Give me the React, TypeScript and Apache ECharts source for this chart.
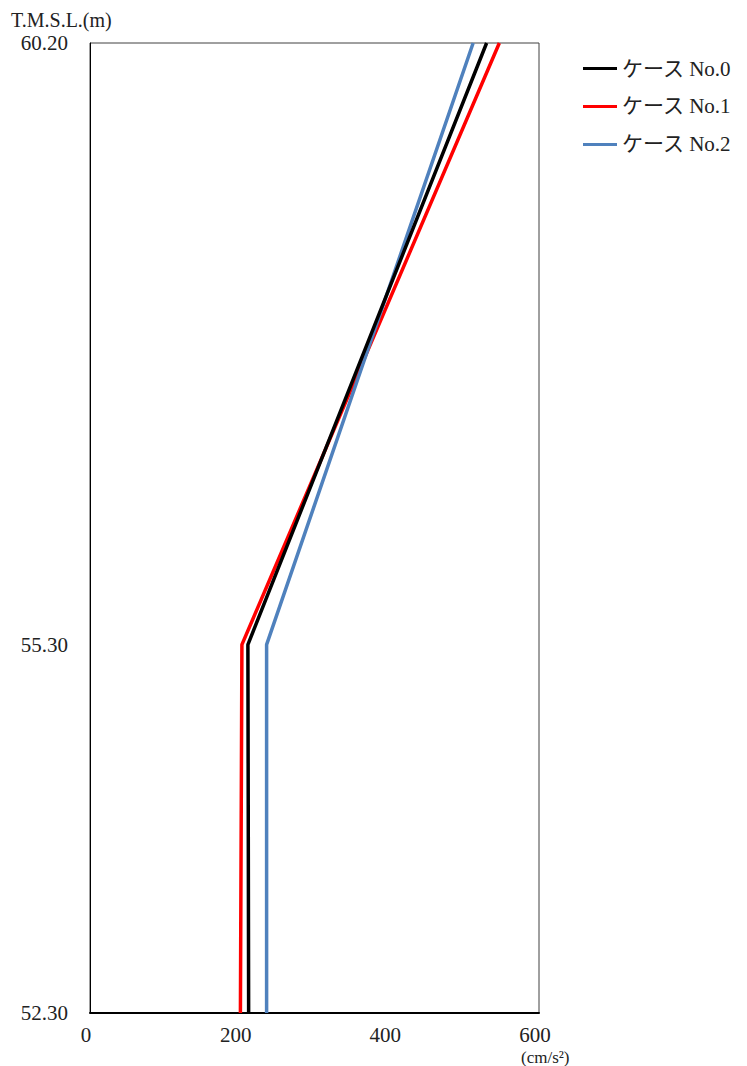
import React, { useEffect, useRef } from "react";
import * as echarts from "echarts";

const seriesNames = ["ケース No.0", "ケース No.1", "ケース No.2"];
const colors = ["#000000", "#ff0000", "#4f81bd"];
const elevations = [52.3, 55.3, 60.2];
const case0 = [212, 211, 530];
const case1 = [201, 203, 547];
const case2 = [236, 236, 512];
const yTickValues = [52.3, 55.3, 60.2];
const xTickValues = [0, 200, 400, 600];

const FONT = "'Liberation Serif', 'Noto Sans CJK JP', serif";

export default function App() {
  const ref = useRef<HTMLDivElement>(null);
  useEffect(() => {
    const chart = echarts.init(ref.current!, null, { renderer: "svg" });
    const all = [case0, case1, case2];
    chart.setOption({
      animation: false,
      textStyle: { fontFamily: FONT },
      grid: {
        left: 90,
        right: 208,
        top: 43,
        bottom: 53,
        show: true,
        borderColor: "#404040",
        borderWidth: 1,
      },
      legend: {
        orient: "vertical",
        left: 578,
        top: 53,
        itemWidth: 34,
        itemHeight: 3,
        itemGap: 17,
        icon: "rect",
        textStyle: { fontSize: 21, color: "#222", fontFamily: FONT },
        data: seriesNames,
      },
      xAxis: {
        type: "value",
        min: 0,
        max: 600,
        interval: 200,
        splitLine: { show: false },
        axisTick: { show: false },
        axisLine: { show: true, lineStyle: { color: "#000", width: 2 } },
        axisLabel: {
          fontSize: 21,
          lineHeight: 20,
          color: "#222",
          margin: 12,
          padding: [0, 8, 0, 0],
          fontFamily: FONT,
          customValues: xTickValues,
        },
      },
      yAxis: {
        type: "value",
        min: 52.3,
        max: 60.2,
        splitLine: { show: false },
        axisTick: { show: false },
        axisLine: { show: true, lineStyle: { color: "#000", width: 1 } },
        axisLabel: {
          fontSize: 21,
          lineHeight: 20,
          color: "#222",
          margin: 22,
          fontFamily: FONT,
          customValues: yTickValues,
          formatter: (v: number) => v.toFixed(2),
        },
      },
      graphic: [
        {
          type: "text",
          left: 11,
          top: 10,
          style: { text: "T.M.S.L.(m)", fontSize: 20, lineHeight: 20, fill: "#222", fontFamily: FONT },
        },
        {
          type: "text",
          left: 521,
          top: 1049,
          style: { text: "(cm/s²)", fontSize: 17, lineHeight: 16, fill: "#222", fontFamily: FONT },
        },
      ],
      series: all.map((vals, i) => ({
        name: seriesNames[i],
        type: "line",
        showSymbol: false,
        symbol: "none",
        lineStyle: { width: 3.5, color: colors[i] },
        itemStyle: { color: colors[i] },
        data: vals.map((v, j) => [v, elevations[j]]),
        z: i === 2 ? 3 : i === 0 ? 4 : 2,
      })),
    });
    return () => chart.dispose();
  }, []);
  return <div ref={ref} style={{ width: 747, height: 1066, position: "absolute", left: 0, top: 0 }} />;
}
